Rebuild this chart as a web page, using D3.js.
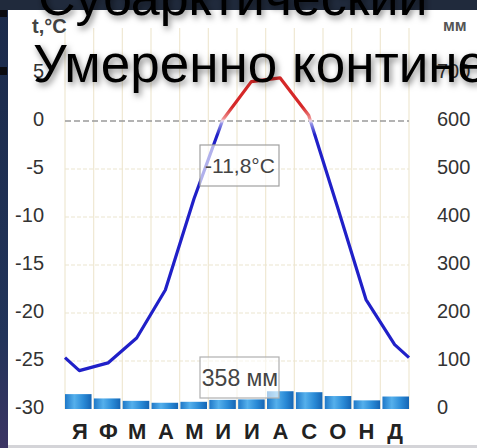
<!DOCTYPE html>
<html><head><meta charset="utf-8">
<script src="https://cdn.jsdelivr.net/npm/d3@7"></script>
<style>html,body{margin:0;padding:0;background:#1c2b4c;overflow:hidden}svg{display:block}</style>
</head><body>
<script>
const months = ["Я","Ф","М","А","М","И","И","А","С","О","Н","Д"];
const temps = [-26.0, -25.2, -22.6, -17.6, -8.1, 0.1, 4.1, 4.5, 0.6, -8.9, -18.6, -23.3];
const precip = [31, 22, 17, 13, 15, 19, 20, 37, 35, 27, 18, 26];
const tempTicks = [5, 0, -5, -10, -15, -20, -25, -30];
const precipTicks = [700, 600, 500, 400, 300, 200, 100, 0];
const gridTemps = [-5, -10, -15, -20, -25];
const avgTempLabel = "-11,8°C";
const totalPrecipLabel = "358 мм";
const titleTop = "Субарктический";
const titleMain = "Умеренно континентальный";

const W = 477, H = 448;
const svg = d3.select("body").append("svg").attr("width", W).attr("height", H);
const defs = svg.append("defs");

// background
const bg = defs.append("linearGradient").attr("id","bgL").attr("x1",0).attr("y1",0).attr("x2",0).attr("y2",1);
bg.append("stop").attr("offset","0%").attr("stop-color","#1b2a4a");
bg.append("stop").attr("offset","75%").attr("stop-color","#22345a");
bg.append("stop").attr("offset","100%").attr("stop-color","#3b3463");
svg.append("rect").attr("width",W).attr("height",H).attr("fill","url(#bgL)");
svg.append("rect").attr("x",0).attr("y",0).attr("width",W).attr("height",10).attr("fill","#202a3c");
svg.append("rect").attr("x",8).attr("y",10).attr("width",W-8).attr("height",435).attr("fill","#ffffff");
svg.append("rect").attr("x",8).attr("y",445).attr("width",W-8).attr("height",3).attr("fill","#d4d4d8");
svg.append("rect").attr("x",0).attr("y",10).attr("width",7).attr("height",7).attr("fill","#0b0b10");
svg.append("rect").attr("x",0).attr("y",67).attr("width",7).attr("height",8).attr("fill","#0b0b10");

const x0 = 65, x1 = 409;
const xGrid = d3.scaleLinear().domain([0, 12]).range([x0, x1]);
const xBand = d3.scaleBand().domain(d3.range(12)).range([x0, x1]).paddingInner(0.08).paddingOuter(0);
const yT = d3.scaleLinear().domain([-30, 5]).range([409, 73]);
const yP = d3.scaleLinear().domain([0, 700]).range([409, 73]);

// grid
const g = svg.append("g");
g.selectAll("line.v").data(d3.range(13)).join("line")
  .attr("x1", d => xGrid(d)).attr("x2", d => xGrid(d))
  .attr("y1", 28).attr("y2", 409)
  .attr("stroke", "#efe8d2").attr("stroke-width", 1.2);
g.selectAll("line.h").data(gridTemps).join("line")
  .attr("x1", x0).attr("x2", x1)
  .attr("y1", d => yT(d)).attr("y2", d => yT(d))
  .attr("stroke", "#ece5cf").attr("stroke-width", 1.2).attr("stroke-dasharray", "4,2");
g.append("line").attr("x1", x0).attr("x2", x1).attr("y1", yT(0)).attr("y2", yT(0))
  .attr("stroke", "#9a9a9a").attr("stroke-width", 1.5).attr("stroke-dasharray", "6,3");

// bars
const bgr = defs.append("linearGradient").attr("id","barG").attr("x1",0).attr("y1",0).attr("x2",1).attr("y2",0);
bgr.append("stop").attr("offset","0%").attr("stop-color","#1f78c8");
bgr.append("stop").attr("offset","35%").attr("stop-color","#55b0ec");
bgr.append("stop").attr("offset","70%").attr("stop-color","#2a8ad6");
bgr.append("stop").attr("offset","100%").attr("stop-color","#1565b4");
svg.selectAll("rect.bar").data(precip).join("rect")
  .attr("x", (d, i) => xBand(i)).attr("width", xBand.bandwidth())
  .attr("y", d => yP(d)).attr("height", d => yP(0) - yP(d))
  .attr("fill", "url(#barG)");

// temperature line
const z = yT(0);
const lg = defs.append("linearGradient").attr("id","lineG").attr("gradientUnits","userSpaceOnUse")
  .attr("x1",0).attr("x2",0).attr("y1", z - 14).attr("y2", z + 14);
lg.append("stop").attr("offset","0%").attr("stop-color","#d62828");
lg.append("stop").attr("offset","40%").attr("stop-color","#ee8a8a");
lg.append("stop").attr("offset","50%").attr("stop-color","#e9dcef");
lg.append("stop").attr("offset","60%").attr("stop-color","#8f8fe6");
lg.append("stop").attr("offset","100%").attr("stop-color","#2020c8");
const edge = (temps[0] + temps[11]) / 2;
const pts = [[0, edge]].concat(temps.map((t, i) => [i + 0.5, t])).concat([[12, edge]]);
svg.append("path").datum(pts)
  .attr("d", d3.line().x(d => xGrid(d[0])).y(d => yT(d[1])))
  .attr("fill", "none").attr("stroke", "url(#lineG)").attr("stroke-width", 3.2)
  .attr("stroke-linejoin", "round");

// label boxes
const lab = svg.append("g").attr("font-family", "'Liberation Sans', Arial, sans-serif").attr("fill", "#444");
lab.append("rect").attr("x", 200).attr("y", 145).attr("width", 79).attr("height", 41)
  .attr("fill", "rgba(255,255,255,0.65)").attr("stroke", "#a0a0a0").attr("stroke-width", 1.2);
lab.append("text").attr("x", 240).attr("y", 173).attr("text-anchor", "middle").attr("font-size", 21)
  .text(avgTempLabel);
lab.append("rect").attr("x", 200).attr("y", 357).attr("width", 79).attr("height", 41)
  .attr("fill", "rgba(255,255,255,0.6)").attr("stroke", "#b0b0b0").attr("stroke-width", 1.2);
lab.append("text").attr("x", 240).attr("y", 386).attr("text-anchor", "middle").attr("font-size", 23)
  .text(totalPrecipLabel);

// axes
const axL = d3.axisLeft(yT).tickValues(tempTicks).tickSize(0).tickPadding(0).tickFormat(d => d);
const gl = svg.append("g").attr("transform", "translate(44,0)").call(axL);
gl.select(".domain").remove();
gl.selectAll("text").attr("font-size", 20).attr("fill", "#333").attr("dy", "0.2em")
  .attr("font-family", "'Liberation Sans', Arial, sans-serif");
const axR = d3.axisRight(yP).tickValues(precipTicks).tickSize(0).tickPadding(0).tickFormat(d => d);
const gr = svg.append("g").attr("transform", "translate(437,0)").call(axR);
gr.select(".domain").remove();
gr.selectAll("text").attr("font-size", 20).attr("fill", "#333").attr("dy", "0.2em")
  .attr("font-family", "'Liberation Sans', Arial, sans-serif");
const axB = d3.axisBottom(xGrid).tickValues(d3.range(12).map(i => i + 0.5)).tickSize(0).tickPadding(0)
  .tickFormat((d, i) => months[i]);
const gb = svg.append("g").attr("transform", "translate(0,439)").call(axB);
gb.select(".domain").remove();
gb.selectAll("text").attr("font-size", 22).attr("font-weight", "bold").attr("fill", "#222").attr("dy", 0)
  .attr("font-family", "'Liberation Sans', Arial, sans-serif");

svg.append("text").attr("x", 32).attr("y", 33).attr("font-size", 20).attr("font-weight", "bold")
  .attr("fill", "#444").attr("font-family", "'Liberation Sans Narrow','Liberation Sans', Arial, sans-serif").text("t,°C");
svg.append("text").attr("x", 443).attr("y", 31).attr("font-size", 16).attr("font-weight", "bold")
  .attr("fill", "#555").attr("font-family", "'Liberation Sans', Arial, sans-serif").text("мм");

// overlay titles
const f = defs.append("filter").attr("id","sh").attr("x","-10%").attr("y","-30%").attr("width","130%").attr("height","160%");
f.append("feDropShadow").attr("dx",2).attr("dy",3).attr("stdDeviation",3).attr("flood-color","#000").attr("flood-opacity",0.5);
const tg = svg.append("g").attr("font-family", "'Liberation Sans', Arial, sans-serif").attr("fill", "#000").attr("filter","url(#sh)");
tg.append("text").attr("x", 38).attr("y", 15).attr("font-size", 52).text(titleTop);
tg.append("text").attr("x", 33).attr("y", 82).attr("font-size", 53).text(titleMain);
</script>
</body></html>
